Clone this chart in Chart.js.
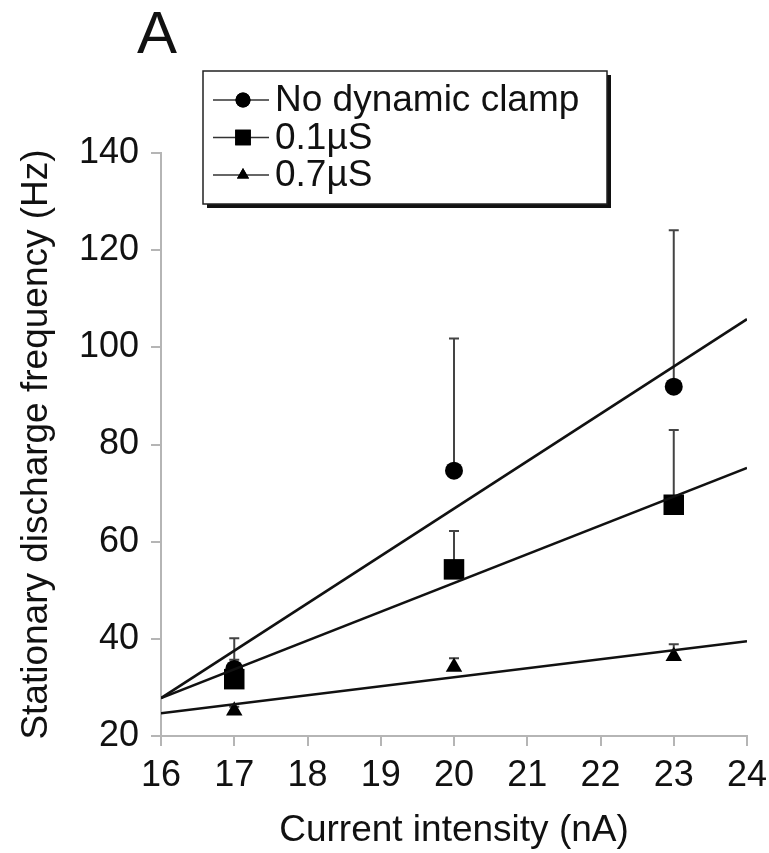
<!DOCTYPE html>
<html>
<head>
<meta charset="utf-8">
<script src="https://cdn.jsdelivr.net/npm/chart.js@4"></script>
<style>
  body { margin: 0; background: #fff; }
  #wrap { width: 769px; height: 853px; position: relative; }
</style>
</head>
<body>
<div id="wrap"><canvas id="myChart"></canvas></div>
<script>
// Data
const currents = [17, 20, 23];
const noClamp = [33.8, 74.6, 91.9];
const noClampSd = [6.3, 27.2, 32.2];
const clamp01 = [31.7, 54.3, 67.6];
const clamp01Sd = [4, 7.9, 15.4];
const clamp07 = [25.2, 34.2, 36.4];
const clamp07Sd = [0.8, 1.8, 2.5];

// Regression lines (end points at x = 16 and x = 24)
const fitX = [16, 24];
const noClampFit = [27.8, 105.8];
const clamp01Fit = [27.8, 75.2];
const clamp07Fit = [24.7, 39.5];

const xTicks = [16, 17, 18, 19, 20, 21, 22, 23, 24];
const yTicks = [20, 40, 60, 80, 100, 120, 140];

const seriesNames = ["No dynamic clamp", "0.1\u00b5S", "0.7\u00b5S"];
const seriesStyles = ["circle", "rect", "triangle"];

Chart.defaults.font.family = "'Liberation Sans', Arial, sans-serif";
Chart.defaults.color = "#111";

function pts(xs, ys) {
  return xs.map((x, i) => ({ x: x, y: ys[i] }));
}

// error bars (upper only)
const errorBars = {
  id: "errorBars",
  beforeDatasetsDraw(chart) {
    const ctx = chart.ctx;
    const xs = chart.scales.x;
    const ys = chart.scales.y;
    const sets = [
      [noClamp, noClampSd],
      [clamp01, clamp01Sd],
      [clamp07, clamp07Sd],
    ];
    ctx.save();
    ctx.strokeStyle = "#444";
    ctx.lineWidth = 2;
    sets.forEach(function (s) {
      currents.forEach(function (c, i) {
        const px = xs.getPixelForValue(c);
        const y0 = ys.getPixelForValue(s[0][i]);
        const y1 = ys.getPixelForValue(s[0][i] + s[1][i]);
        ctx.beginPath();
        ctx.moveTo(px, y0);
        ctx.lineTo(px, y1);
        ctx.moveTo(px - 5, y1);
        ctx.lineTo(px + 5, y1);
        ctx.stroke();
      });
    });
    ctx.restore();
  },
};

// boxed legend + panel letter
const boxLegend = {
  id: "boxLegend",
  afterDraw(chart) {
    const ctx = chart.ctx;
    const a = chart.chartArea;
    const left = a.left + 42;
    const top = a.top - 82;
    const w = 404;
    const h = 133;
    ctx.save();
    // shadow
    ctx.fillStyle = "#111";
    ctx.fillRect(left + 4, top + 4, w, h);
    ctx.fillStyle = "#fff";
    ctx.fillRect(left, top, w, h);
    ctx.strokeStyle = "#222";
    ctx.lineWidth = 1.5;
    ctx.strokeRect(left, top, w, h);

    ctx.font = "37px 'Liberation Sans', Arial, sans-serif";
    ctx.textBaseline = "middle";
    seriesNames.forEach(function (name, i) {
      const cy = top + 29 + i * 37.5;
      ctx.strokeStyle = "#333";
      ctx.lineWidth = 1.5;
      ctx.beginPath();
      ctx.moveTo(left + 10, cy);
      ctx.lineTo(left + 66, cy);
      ctx.stroke();
      ctx.fillStyle = "#000";
      const r = seriesStyles[i] === "rect" ? 11 : seriesStyles[i] === "triangle" ? 7 : 7.5;
      Chart.helpers.drawPoint(ctx, { pointStyle: seriesStyles[i], radius: r, borderWidth: 0 }, left + 40, cy);
      ctx.fill();
      ctx.fillStyle = "#111";
      ctx.fillText(name, left + 72, cy + 1);
    });

    ctx.font = "60px 'Liberation Sans', Arial, sans-serif";
    ctx.textAlign = "center";
    ctx.textBaseline = "alphabetic";
    ctx.fillStyle = "#111";
    ctx.fillText("A", a.left - 4, 53);
    ctx.restore();
  },
};

const lineStyle = {
  showLine: true,
  borderColor: "#111",
  borderWidth: 2.5,
  pointRadius: 0,
  fill: false,
};

const ctx = document.getElementById("myChart").getContext("2d");

const myChart = new Chart(ctx, {
  type: "scatter",
  data: {
    datasets: [
      Object.assign({ label: "fit0", data: pts(fitX, noClampFit) }, lineStyle),
      Object.assign({ label: "fit1", data: pts(fitX, clamp01Fit) }, lineStyle),
      Object.assign({ label: "fit2", data: pts(fitX, clamp07Fit) }, lineStyle),
      {
        label: seriesNames[0],
        data: pts(currents, noClamp),
        pointStyle: "circle",
        pointRadius: 9,
        backgroundColor: "#000",
        borderWidth: 0,
      },
      {
        label: seriesNames[1],
        data: pts(currents, clamp01),
        pointStyle: "rect",
        pointRadius: 14.5,
        backgroundColor: "#000",
        borderWidth: 0,
      },
      {
        label: seriesNames[2],
        data: pts(currents, clamp07),
        pointStyle: "triangle",
        pointRadius: 9.5,
        backgroundColor: "#000",
        borderWidth: 0,
      },
    ],
  },
  options: {
    responsive: true,
    maintainAspectRatio: false,
    animation: false,
    layout: { padding: { top: 153, right: 22, left: 0, bottom: 0 } },
    plugins: {
      legend: { display: false },
      tooltip: { enabled: false },
    },
    scales: {
      x: {
        type: "linear",
        min: 16,
        max: 24,
        afterBuildTicks: (s) => { s.ticks = xTicks.map((v) => ({ value: v })); },
        afterFit: (s) => {
          s.height = 117;
          s.paddingLeft = 0;
          s.paddingRight = 0;
        },
        ticks: { font: { size: 36 }, padding: 8, color: "#111" },
        grid: { drawOnChartArea: false, color: "#b5b5b5", lineWidth: 2, tickLength: 10 },
        border: { color: "#b5b5b5", width: 2 },
        title: {
          display: true,
          text: "Current intensity (nA)",
          font: { size: 37 },
          color: "#111",
          padding: { top: 0, bottom: 0 },
        },
      },
      y: {
        type: "linear",
        min: 20,
        max: 140,
        afterBuildTicks: (s) => { s.ticks = yTicks.map((v) => ({ value: v })); },
        afterFit: (s) => {
          s.width = 161;
          s.paddingTop = 0;
          s.paddingBottom = 0;
        },
        ticks: { font: { size: 36 }, padding: 12, color: "#111" },
        grid: { drawOnChartArea: false, color: "#b5b5b5", lineWidth: 2, tickLength: 10 },
        border: { color: "#b5b5b5", width: 2 },
        title: {
          display: true,
          text: "Stationary discharge frequency (Hz)",
          font: { size: 37 },
          color: "#111",
          padding: { top: 15, bottom: 0 },
        },
      },
    },
  },
  plugins: [errorBars, boxLegend],
});
</script>
</body>
</html>
